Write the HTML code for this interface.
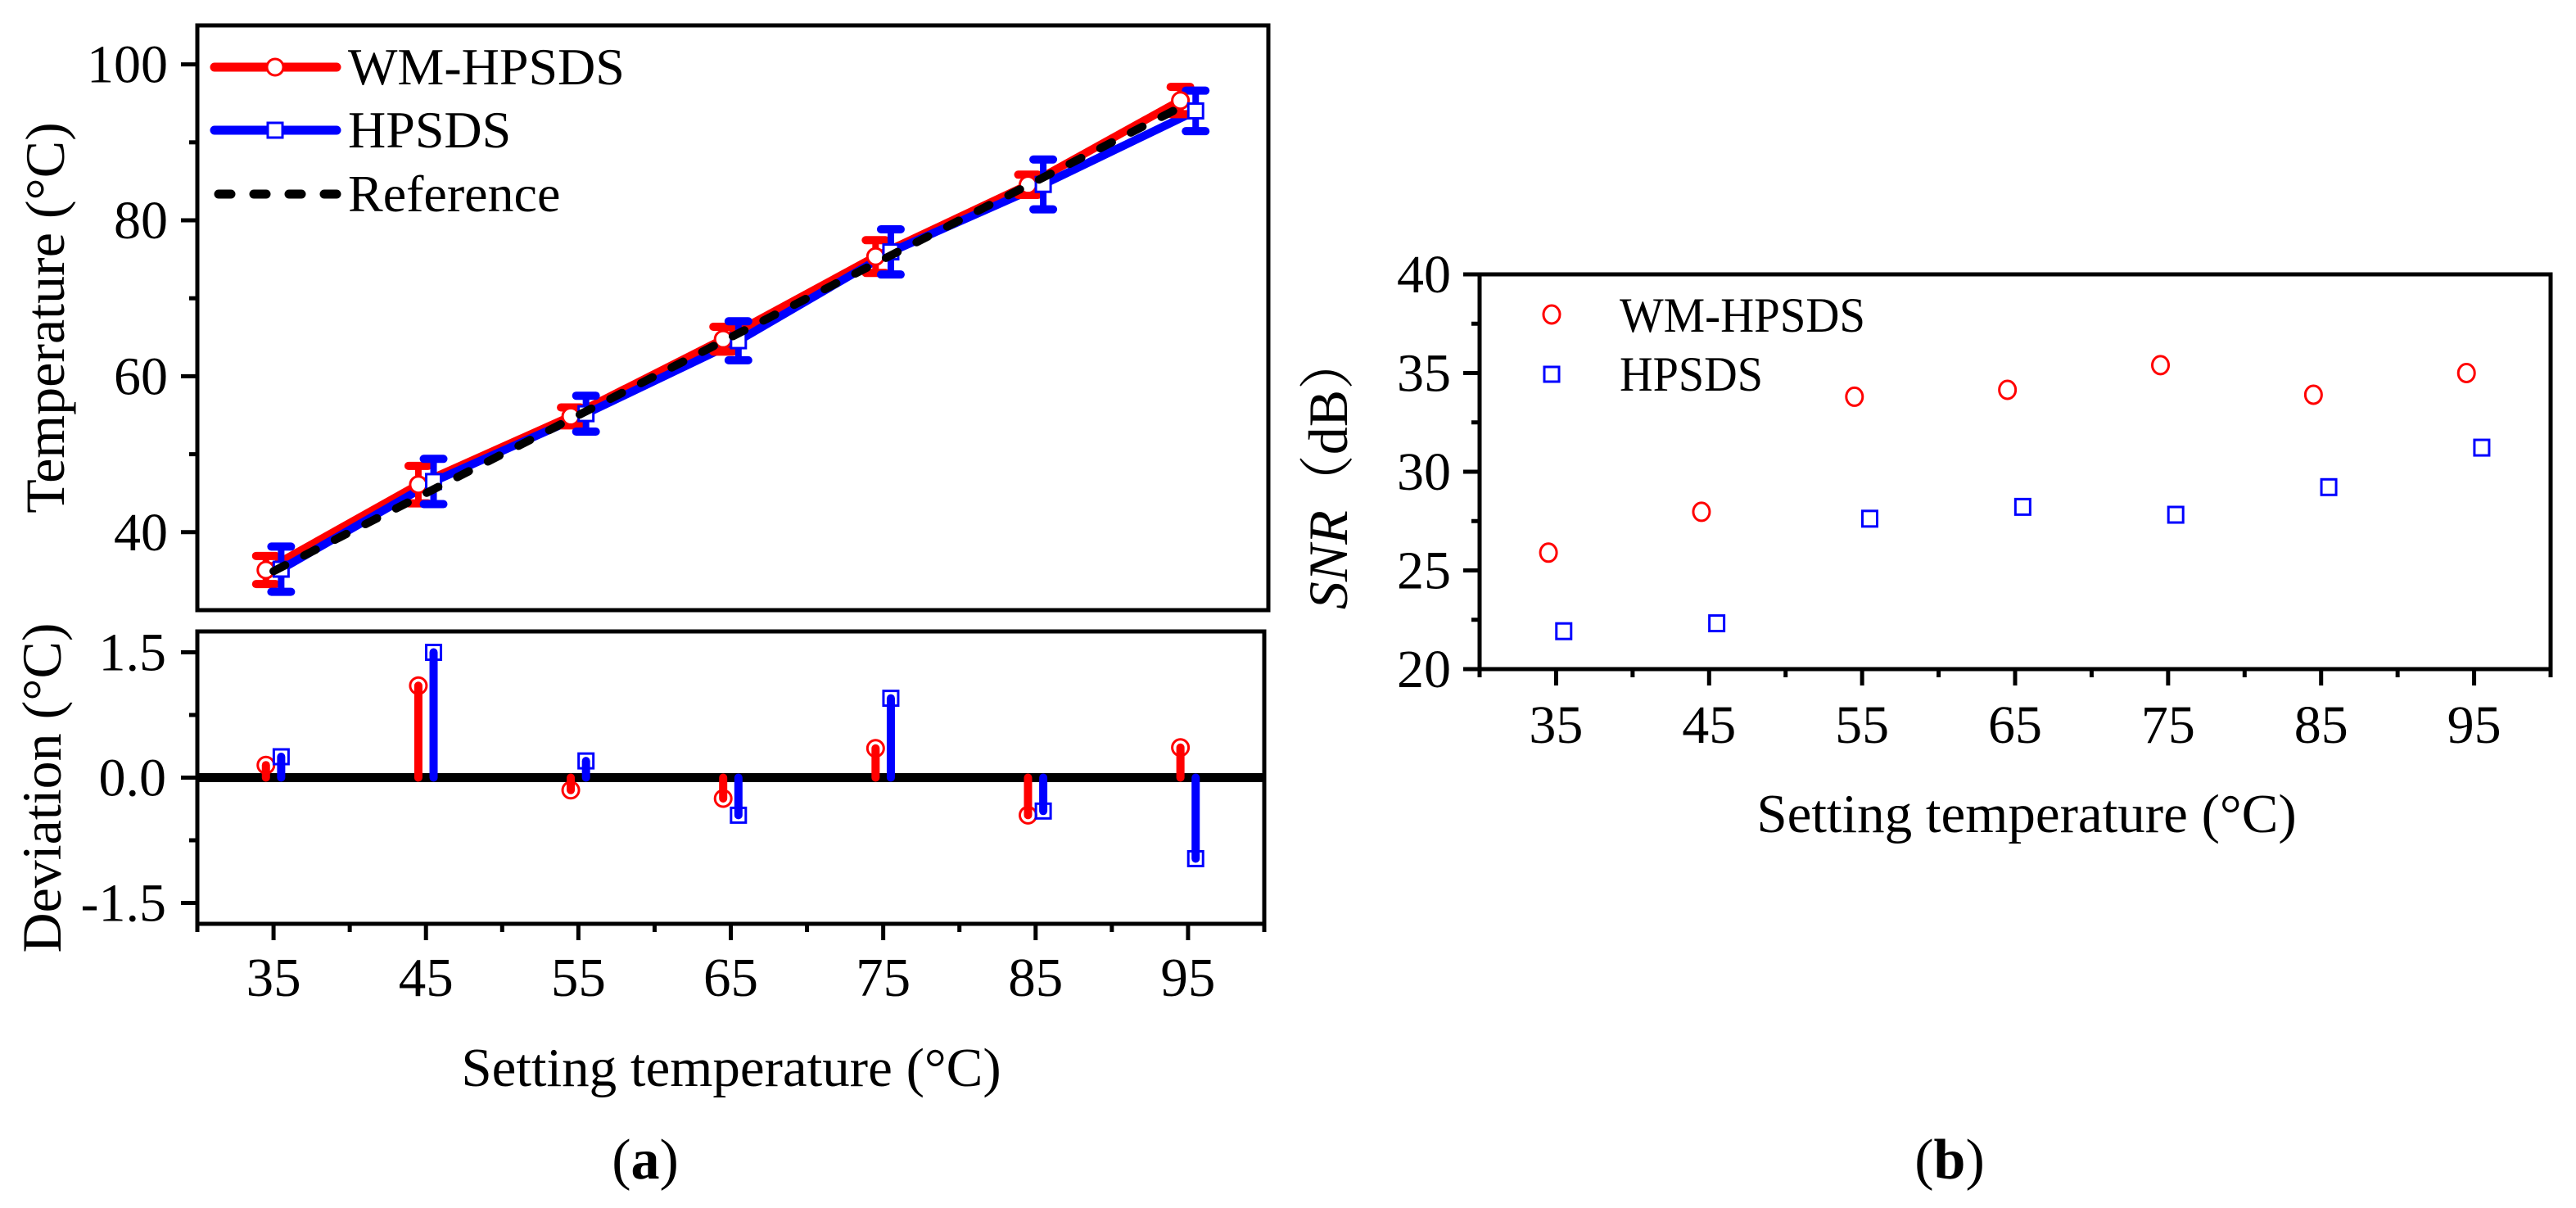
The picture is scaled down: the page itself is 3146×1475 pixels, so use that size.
<!DOCTYPE html>
<html><head><meta charset="utf-8"><style>
html,body{margin:0;padding:0;background:#fff}
svg{display:block;font-family:"Liberation Serif","Noto Serif CJK SC",serif}
</style></head><body>
<svg id="fig" width="3146" height="1475" viewBox="0 0 3146 1475" xmlns="http://www.w3.org/2000/svg">
<g id="pa"></g>
<g id="pb"></g>
</svg>
<script>
const temps=[35,45,55,65,75,85,95];
const refVals=[35,45,55,65,75,85,95];
const wmMean=[35.15,46.1,54.85,64.75,75.35,84.55,95.36];
const hpMean=[35.25,46.5,55.2,64.55,75.95,84.6,94.03];
const wmErr=[1.8,2.4,1.15,1.6,2.1,1.3,1.75];
const hpErr=[2.9,2.9,2.3,2.5,2.9,3.2,2.6];
const wmDev=[0.15,1.1,-0.15,-0.25,0.35,-0.45,0.36];
const hpDev=[0.25,1.5,0.2,-0.45,0.95,-0.4,-0.97];
const snrWm=[25.9,27.97,33.8,34.15,35.4,33.9,35.0];
const snrHp=[21.9,22.3,27.6,28.2,27.8,29.2,31.2];
const xTicks=[35,45,55,65,75,85,95];
const xMinor=[30,40,50,60,70,80,90,100];
const upTicks=[40,60,80,100];
const upMinor=[30,50,70,90];
const devTicks=[-1.5,0,1.5];
const devTickLabels=["-1.5","0.0","1.5"];
const devMinor=[-0.75,0.75];
const snrTicks=[20,25,30,35,40];
const snrMinor=[22.5,27.5,32.5,37.5];

const NS="http://www.w3.org/2000/svg";
function mk(parent,tag,attrs,text){const e=document.createElementNS(NS,tag);for(const k in attrs)e.setAttribute(k,attrs[k]);if(text!==undefined)e.textContent=text;parent.appendChild(e);return e;}
function lin(d0,d1,r0,r1){return v=>r0+(v-d0)*(r1-r0)/(d1-d0);}

const pa=document.getElementById('pa'), pb=document.getElementById('pb');
const xA=lin(30,100,241,1544);
const yU=lin(30,105,745,31);
const yD=lin(-1.75,1.75,1128,771);
const xB=lin(30,100,1807,3115);
const yB=lin(20,40,817,335);

let f=mk(pa,'rect',{x:241,y:31,width:1308,height:714,fill:'none',stroke:'#000','stroke-width':5});

upTicks.forEach(v=>{const y=yU(v);
 let t=mk(pa,'line',{x1:221,x2:241,y1:y,y2:y,stroke:'#000','stroke-width':5});
 
 let l=mk(pa,'text',{x:205,y:y+22,'font-size':66,'text-anchor':'end'},String(v));
 });
upMinor.forEach(v=>{const y=yU(v);if(v<31)return;
 let t=mk(pa,'line',{x1:231,x2:241,y1:y,y2:y,stroke:'#000','stroke-width':5});
 });
let tt=mk(pa,'text',{x:0,y:0,'font-size':68,'text-anchor':'middle',transform:'translate(78,388) rotate(-90)'},'Temperature (°C)');


let refPts=temps.map((t,i)=>xA(t)+','+yU(refVals[i])).join(' ');
let rl=mk(pa,'polyline',{points:temps.map((t,i)=>xA(t-0.5)+','+yU(wmMean[i])).join(' '),fill:'none',stroke:'#ff0000','stroke-width':10,'stroke-linejoin':'round'});

let bl=mk(pa,'polyline',{points:temps.map((t,i)=>xA(t+0.5)+','+yU(hpMean[i])).join(' '),fill:'none',stroke:'#0000ff','stroke-width':10,'stroke-linejoin':'round'});

function errbar(g,x,m,e,col,name){
 const y1=yU(m+e),y2=yU(m-e);
 let a=mk(g,'line',{x1:x,x2:x,y1:y1,y2:y2,stroke:col,'stroke-width':8});
 
 [y1,y2].forEach(y=>{let c=mk(g,'line',{x1:x-12,x2:x+12,y1:y,y2:y,stroke:col,'stroke-width':10,'stroke-linecap':'round'});
 });
}
temps.forEach((t,i)=>{
 errbar(pa,xA(t-0.5),wmMean[i],wmErr[i],'#ff0000','wm-error-bar');
 errbar(pa,xA(t+0.5),hpMean[i],hpErr[i],'#0000ff','hpsds-error-bar');
});
temps.forEach((t,i)=>{
 let c=mk(pa,'circle',{cx:xA(t-0.5),cy:yU(wmMean[i]),r:10,fill:'#fff',stroke:'#ff0000','stroke-width':3});
 
 let s=mk(pa,'rect',{x:xA(t+0.5)-9,y:yU(hpMean[i])-9,width:18,height:18,fill:'#fff',stroke:'#0000ff','stroke-width':3});
 
});
let rf=mk(pa,'polyline',{points:refPts,fill:'none',stroke:'#000','stroke-width':10,'stroke-dasharray':'16 26','stroke-linecap':'round'});


const legA=mk(pa,'g',{});
let e1=mk(legA,'line',{x1:262,x2:411,y1:82,y2:82,stroke:'#ff0000','stroke-width':11,'stroke-linecap':'round'});
let e1m=mk(legA,'circle',{cx:336,cy:82,r:10,fill:'#fff',stroke:'#ff0000','stroke-width':3});
let e1t=mk(legA,'text',{x:425,y:103,'font-size':64},'WM-HPSDS');
let e2=mk(legA,'line',{x1:262,x2:411,y1:159,y2:159,stroke:'#0000ff','stroke-width':11,'stroke-linecap':'round'});
let e2m=mk(legA,'rect',{x:327,y:150,width:18,height:18,fill:'#fff',stroke:'#0000ff','stroke-width':3});
let e2t=mk(legA,'text',{x:425,y:180,'font-size':64},'HPSDS');
let e3=mk(legA,'line',{x1:267,x2:411,y1:237,y2:237,stroke:'#000','stroke-width':11,'stroke-linecap':'round','stroke-dasharray':'15 28'});
let e3t=mk(legA,'text',{x:425,y:258,'font-size':64},'Reference');

let f2=mk(pa,'rect',{x:241,y:771,width:1303,height:357,fill:'none',stroke:'#000','stroke-width':5});

devTicks.forEach((v,i)=>{const y=yD(v);
 let t=mk(pa,'line',{x1:221,x2:241,y1:y,y2:y,stroke:'#000','stroke-width':5});
 
 let l=mk(pa,'text',{x:203,y:y+22,'font-size':66,'text-anchor':'end'},devTickLabels[i]);
 });
devMinor.forEach(v=>{const y=yD(v);
 let t=mk(pa,'line',{x1:231,x2:241,y1:y,y2:y,stroke:'#000','stroke-width':5});
 });
let zl=mk(pa,'line',{x1:241,x2:1544,y1:yD(0),y2:yD(0),stroke:'#000','stroke-width':11});

temps.forEach((t,i)=>{
 let x=xA(t-0.5);
 let s=mk(pa,'line',{x1:x,x2:x,y1:yD(0),y2:yD(wmDev[i]),stroke:'#ff0000','stroke-width':10,'stroke-linecap':'round'});
 
 let c=mk(pa,'circle',{cx:x,cy:yD(wmDev[i]),r:10,fill:'none',stroke:'#ff0000','stroke-width':3});
 
 let x2=xA(t+0.5);
 let s2=mk(pa,'line',{x1:x2,x2:x2,y1:yD(0),y2:yD(hpDev[i]),stroke:'#0000ff','stroke-width':10,'stroke-linecap':'round'});
 
 let q=mk(pa,'rect',{x:x2-9,y:yD(hpDev[i])-9,width:18,height:18,fill:'none',stroke:'#0000ff','stroke-width':3});
 
});
xTicks.forEach(v=>{const x=xA(v);
 let t=mk(pa,'line',{x1:x,x2:x,y1:1128,y2:1148,stroke:'#000','stroke-width':5});
 
 let l=mk(pa,'text',{x:x,y:1216,'font-size':67,'text-anchor':'middle'},String(v));
 });
xMinor.forEach(v=>{const x=xA(v);
 let t=mk(pa,'line',{x1:x,x2:x,y1:1128,y2:1138,stroke:'#000','stroke-width':5});
 });
let dt=mk(pa,'text',{x:0,y:0,'font-size':68,'text-anchor':'middle',transform:'translate(74,962) rotate(-90)'},'Deviation (°C)');

let xt=mk(pa,'text',{x:893,y:1326,'font-size':67,'text-anchor':'middle'},'Setting temperature (°C)');

let ca=mk(pa,'text',{x:788,y:1439,'font-size':70,'text-anchor':'middle'});
ca.innerHTML='(<tspan font-weight="bold">a</tspan>)';


let fb=mk(pb,'rect',{x:1807,y:335,width:1308,height:482,fill:'none',stroke:'#000','stroke-width':5});

snrTicks.forEach(v=>{const y=yB(v);
 let t=mk(pb,'line',{x1:1787,x2:1807,y1:y,y2:y,stroke:'#000','stroke-width':5});
 
 let l=mk(pb,'text',{x:1772,y:y+22,'font-size':66,'text-anchor':'end'},String(v));
 });
snrMinor.forEach(v=>{const y=yB(v);
 let t=mk(pb,'line',{x1:1797,x2:1807,y1:y,y2:y,stroke:'#000','stroke-width':5});
 });
xTicks.forEach(v=>{const x=xB(v);
 let t=mk(pb,'line',{x1:x,x2:x,y1:817,y2:837,stroke:'#000','stroke-width':5});
 
 let l=mk(pb,'text',{x:x,y:907,'font-size':66,'text-anchor':'middle'},String(v));
 });
xMinor.forEach(v=>{const x=xB(v);
 let t=mk(pb,'line',{x1:x,x2:x,y1:817,y2:827,stroke:'#000','stroke-width':5});
 });
temps.forEach((t,i)=>{
 let c=mk(pb,'ellipse',{cx:xB(t-0.5),cy:yB(snrWm[i]),rx:10,ry:11,fill:'none',stroke:'#ff0000','stroke-width':3});
 
 let s=mk(pb,'rect',{x:xB(t+0.5)-9,y:yB(snrHp[i])-10,width:18,height:19,fill:'none',stroke:'#0000ff','stroke-width':3});
 
});
const legB=mk(pb,'g',{});
let b1=mk(legB,'ellipse',{cx:1895,cy:384,rx:10,ry:11,fill:'none',stroke:'#ff0000','stroke-width':3});
let b1t=mk(legB,'text',{x:1978,y:405,'font-size':60,textLength:300,lengthAdjust:'spacingAndGlyphs'},'WM-HPSDS');
let b2=mk(legB,'rect',{x:1886,y:448,width:18,height:18,fill:'none',stroke:'#0000ff','stroke-width':3});
let b2t=mk(legB,'text',{x:1978,y:477,'font-size':60,textLength:175,lengthAdjust:'spacingAndGlyphs'},'HPSDS');
let st=mk(pb,'text',{x:0,y:0,'font-size':68,'text-anchor':'middle',transform:'translate(1645,576) rotate(-90)'});
st.innerHTML='<tspan font-style="italic">SNR</tspan>（dB）';

let xtb=mk(pb,'text',{x:2475,y:1016,'font-size':67,'text-anchor':'middle'},'Setting temperature (°C)');

let cb=mk(pb,'text',{x:2381,y:1439,'font-size':70,'text-anchor':'middle'});
cb.innerHTML='(<tspan font-weight="bold">b</tspan>)';

</script>
</body></html>
